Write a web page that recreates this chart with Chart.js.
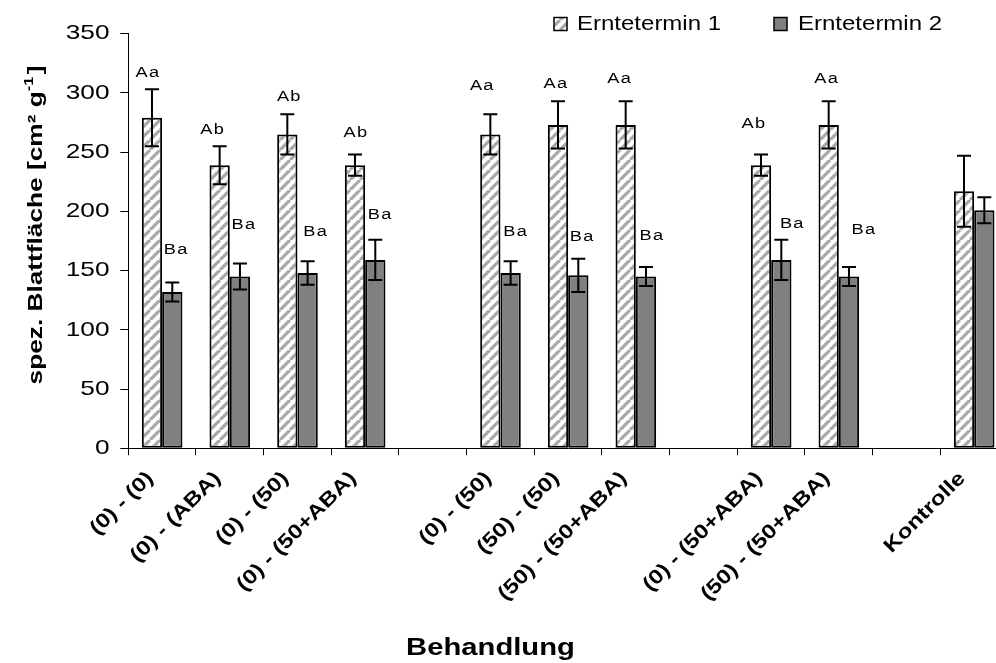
<!DOCTYPE html>
<html>
<head>
<meta charset="utf-8">
<script src="https://cdn.jsdelivr.net/npm/chart.js@4/dist/chart.umd.min.js"></script>
<style>
  html, body { margin: 0; padding: 0; background: #fff; overflow: hidden; }
  #wrap { width: 1020px; height: 663px; }
</style>
</head>
<body>
<div id="wrap"><canvas id="chart" width="1020" height="663"></canvas></div>
<script>
// Treatments (empty entries are the spacer slots between treatment groups)
const categories = ['(0) - (0)', '(0) - (ABA)', '(0) - (50)', '(0) - (50+ABA)', '',
  '(0) - (50)', '(50) - (50)', '(50) - (50+ABA)', '',
  '(0) - (50+ABA)', '(50) - (50+ABA)', '', 'Kontrolle'];

const seriesNames = ['Erntetermin 1', 'Erntetermin 2'];

// Specific leaf area [cm² g⁻¹] and its standard deviation
const harvest1 = [279, 239, 265, 239, null, 265, 273, 273, null, 239, 273, null, 217];
const harvest1Sd = [24, 16, 17, 9, null, 17, 20, 20, null, 9, 20, null, 30];
const harvest2 = [132, 145, 148, 159, null, 148, 146, 145, null, 159, 145, null, 201];
const harvest2Sd = [8, 11, 10, 17, null, 10, 14, 8, null, 17, 8, null, 11];

// Significance letters
const harvest1Letters = ['Aa', 'Ab', 'Ab', 'Ab', '', 'Aa', 'Aa', 'Aa', '', 'Ab', 'Aa', '', ''];
const harvest2Letters = ['Ba', 'Ba', 'Ba', 'Ba', '', 'Ba', 'Ba', 'Ba', '', 'Ba', 'Ba', '', ''];

const yTicks = [0, 50, 100, 150, 200, 250, 300, 350];

const yTitle = 'spez. Blattfläche [cm² g';
const yTitleSup = '-1';
const xTitle = 'Behandlung';

// Letter placement: pixel nudge [dx, dy] from the top of each error bar
const letterNudge1 = [[-4, -16], [-7, -16], [2, -17], [1, -21], null, [-8, -28], [-2, -17], [-6, -22], null, [-7, -30], [-2, -22], null, null];
const letterNudge2 = [[4, -32], [4, -38], [8, -29], [5, -25], null, [5, -29], [4, -22], [6, -31], null, [11, -16], [15, -37], null, null];

const FONT = '"Liberation Sans", Arial, Helvetica, sans-serif';

function hatchPattern() {
  const s = 10;
  const c = document.createElement('canvas');
  c.width = c.height = s;
  const g = c.getContext('2d');
  g.fillStyle = '#ffffff';
  g.fillRect(0, 0, s, s);
  g.strokeStyle = '#a9a9a9';
  g.lineWidth = 3.2;
  g.beginPath();
  for (const o of [-s, 0, s]) {
    g.moveTo(o, s);
    g.lineTo(o + s, 0);
  }
  g.stroke();
  return g.createPattern(c, 'repeat');
}

// Draws text with a slight horizontal widening in its own frame
function wideText(ctx, str, x, y, o) {
  ctx.save();
  ctx.translate(x, y);
  if (o.rot) ctx.rotate(o.rot);
  ctx.scale(o.sx || 1, 1);
  ctx.font = o.font;
  ctx.letterSpacing = o.ls || '0px';
  ctx.textAlign = o.align || 'left';
  ctx.textBaseline = o.baseline || 'alphabetic';
  ctx.fillStyle = '#000';
  ctx.fillText(str, 0, 0);
  ctx.restore();
}

const hatch = hatchPattern();
const fillGray = '#808080';

const errorBars = {
  id: 'errorBars',
  afterDatasetsDraw(chart) {
    const { ctx } = chart;
    const y = chart.scales.y;
    const sds = [harvest1Sd, harvest2Sd];
    const letters = [harvest1Letters, harvest2Letters];
    const nudges = [letterNudge1, letterNudge2];
    chart.data.datasets.forEach((ds, di) => {
      const meta = chart.getDatasetMeta(di);
      meta.data.forEach((bar, i) => {
        const v = ds.data[i];
        if (v == null) return;
        const sd = sds[di][i];
        const top = y.getPixelForValue(v + sd);
        const bot = y.getPixelForValue(v - sd);
        ctx.save();
        ctx.strokeStyle = '#000';
        ctx.lineWidth = 2;
        ctx.beginPath();
        ctx.moveTo(bar.x, top); ctx.lineTo(bar.x, bot);
        ctx.moveTo(bar.x - 7, top); ctx.lineTo(bar.x + 7, top);
        ctx.moveTo(bar.x - 7, bot); ctx.lineTo(bar.x + 7, bot);
        ctx.stroke();
        ctx.restore();
        const txt = letters[di][i];
        const n = nudges[di][i];
        if (txt && n) {
          wideText(ctx, txt, bar.x + n[0], top + n[1], {
            font: '14px ' + FONT, sx: 1.3, ls: '1px', align: 'center', baseline: 'middle'
          });
        }
      });
    });
  }
};

const axisText = {
  id: 'axisText',
  afterDraw(chart) {
    const { ctx } = chart;
    const xs = chart.scales.x;
    const ys = chart.scales.y;
    // y tick labels
    yTicks.forEach(t => {
      wideText(ctx, String(t), 109.5, ys.getPixelForValue(t), {
        font: '21px ' + FONT, sx: 1.25, align: 'right', baseline: 'middle'
      });
    });
    // x tick labels, slanted
    categories.forEach((lab, i) => {
      if (!lab) return;
      const cx = xs.getPixelForValue(i);
      wideText(ctx, lab, cx - 12, xs.top + 27, {
        font: 'bold 20px ' + FONT, sx: 1.2, rot: -Math.PI / 4, align: 'right', baseline: 'middle'
      });
    });
    // x title
    wideText(ctx, xTitle, 490.5, 655, { font: 'bold 23px ' + FONT, sx: 1.27, align: 'center' });
    // y title with superscript
    ctx.save();
    ctx.translate(41.7, 225);
    ctx.rotate(-Math.PI / 2);
    ctx.scale(1.25, 1);
    ctx.fillStyle = '#000';
    ctx.textBaseline = 'alphabetic';
    ctx.textAlign = 'left';
    const mainFont = 'bold 21px ' + FONT;
    const supFont = 'bold 13px ' + FONT;
    ctx.font = mainFont;
    const w1 = ctx.measureText(yTitle).width;
    const w3 = ctx.measureText(']').width;
    ctx.font = supFont;
    const w2 = ctx.measureText(yTitleSup).width;
    let x0 = -(w1 + w2 + 2 + w3) / 2;
    ctx.font = mainFont;
    ctx.fillText(yTitle, x0, 0);
    ctx.font = supFont;
    ctx.fillText(yTitleSup, x0 + w1, -9);
    ctx.font = mainFont;
    ctx.fillText(']', x0 + w1 + w2 + 2, 0);
    ctx.restore();
    // legend
    const items = [
      { x: 554, fill: hatch, label: seriesNames[0], tx: 577 },
      { x: 774, fill: fillGray, label: seriesNames[1], tx: 798 }
    ];
    items.forEach(it => {
      ctx.save();
      ctx.fillStyle = it.fill;
      ctx.fillRect(it.x, 17.5, 13, 13);
      ctx.strokeStyle = '#000';
      ctx.lineWidth = 1.5;
      ctx.strokeRect(it.x, 17.5, 13, 13);
      ctx.restore();
      wideText(ctx, it.label, it.tx, 24, { font: '20px ' + FONT, sx: 1.2, baseline: 'middle' });
    });
  }
};

new Chart(document.getElementById('chart'), {
  type: 'bar',
  data: {
    labels: categories,
    datasets: [
      { label: seriesNames[0], data: harvest1, backgroundColor: hatch, borderColor: '#000', borderWidth: 2, borderSkipped: false },
      { label: seriesNames[1], data: harvest2, backgroundColor: fillGray, borderColor: '#000', borderWidth: 2, borderSkipped: false }
    ]
  },
  options: {
    responsive: false,
    animation: false,
    events: [],
    categoryPercentage: 0.6,
    barPercentage: 1.0,
    layout: { padding: { top: 33.7, left: 0, right: 12, bottom: 0 } },
    plugins: { legend: { display: false }, tooltip: { enabled: false }, title: { display: false } },
    scales: {
      x: {
        type: 'category',
        offset: true,
        grid: { display: true, offset: true, drawOnChartArea: false, drawTicks: true, tickLength: 7, color: '#000', lineWidth: 1 },
        border: { display: true, color: '#000', width: 1 },
        ticks: { display: false },
        afterFit(s) { s.height = 663 - 448.3; }
      },
      y: {
        min: 0,
        max: 350,
        grid: { display: true, drawOnChartArea: false, drawTicks: true, tickLength: 8, color: '#000', lineWidth: 1 },
        border: { display: true, color: '#000', width: 1 },
        ticks: { display: false, stepSize: 50 },
        afterFit(s) { s.width = 128.3; }
      }
    }
  },
  plugins: [errorBars, axisText]
});
</script>
</body>
</html>
